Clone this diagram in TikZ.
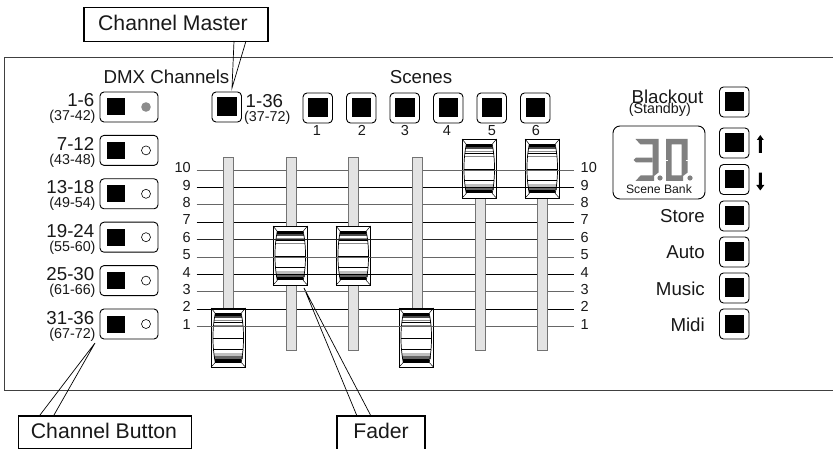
\documentclass[tikz,border=0pt]{standalone}
\usepackage{fontspec}
\setmainfont{Liberation Sans}
\tikzset{
 btn/.style={draw=black,line width=0.9pt,fill=white,rounded corners=4pt},
 sq/.style={fill=black,draw=none},
 lbl/.style={inner sep=0pt,font=\fontsize{18.7}{19}\selectfont,text=black!90},
 sub/.style={inner sep=0pt,font=\fontsize{14.3}{15}\selectfont,text=black!90},
 num/.style={inner sep=0pt,font=\fontsize{14.5}{15}\selectfont,text=black!90},
 calltxt/.style={inner sep=0pt,font=\fontsize{21.2}{22}\selectfont,text=black!90},
 call/.style={draw=black,line width=1.5pt,fill=white},
 ptr/.style={draw=black,line width=0.7pt},
 gridl/.style={line width=0.8pt},
 seg/.style={fill=black!50,draw=none},
}
\definecolor{trackc}{gray}{0.89}
\newcommand{\chbtn}[1]{%
 \draw[btn] (100,#1) rectangle (158,#1+30);
 \fill[sq] (107,#1+6.5) rectangle (125,#1+23.5);
}
\newcommand{\sqbtn}[2]{%
 \draw[btn] (#1,#2) rectangle (#1+29.5,#2+30);
 \fill[sq] (#1+5.2,#2+5.5) rectangle (#1+24.5,#2+24);
}
\newcommand{\fadercap}[2]{%
 \begin{scope}[shift={(#1,#2)}]
 \draw[line width=0.9pt,fill=white] (0,0) rectangle (34.5,59);
 \fill[black] (4.3,5.3) rectangle (30.2,8.3);
 \fill[black!70] (3.6,8.3) rectangle (30.9,10);
 \fill[black!45] (3,12) rectangle (31.5,13.3);
 \fill[black] (2.8,14.2) rectangle (31.7,14.9);
 \fill[black!45] (2.4,16.7) rectangle (32.1,18);
 \fill[black!25] (2.6,45) rectangle (31.9,48);
 \fill[black!60] (3,48) rectangle (31.5,51);
 \fill[black] (4.3,51) rectangle (30.2,54.5);
 \draw[line width=0.7pt] (4.3,5.3) .. controls (1.2,20) and (1.2,39) .. (4.3,54.5);
 \draw[line width=0.7pt] (30.2,5.3) .. controls (33.3,20) and (33.3,39) .. (30.2,54.5);
 \draw[line width=0.5pt] (0,0) -- (4.3,5.3) (34.5,0) -- (30.2,5.3) (0,59) -- (4.3,54.5) (34.5,59) -- (30.2,54.5);
 \draw[line width=0.6pt] (2,30) -- (32.5,30) (2.3,41) -- (32.2,41);
 \end{scope}
}
\newcommand{\gridlines}{%
 \foreach \yy/\cc in {170/black!60,187.4/black,204.8/black!60,222.2/black,239.6/black!85,257/black!60,274.4/black,291.8/black!60,309.2/black,326.6/black!60}
  \draw[gridl,draw=\cc] (196.5,\yy) -- (574,\yy);
}
\begin{document}
\begin{tikzpicture}[x=1pt,y=-1pt]
\useasboundingbox (0,0) rectangle (833,449);
\fill[white] (0,0) rectangle (833,449);
% panel
\draw[line width=0.9pt,draw=black!75] (833,57.5) -- (4.5,57.5) -- (4.5,390.7) -- (833,390.7);
% callouts
\node[call,minimum width=184pt,minimum height=34pt,inner sep=0pt,anchor=north west] (cm) at (83,7) {};
\node[calltxt,anchor=base] (cmt) at (173,30.7) {Channel Master};
\coordinate (cma) at (234,41);\coordinate (cmb) at (246,41);\coordinate (cmc) at (232,88);
\draw[ptr] (cma) -- (cmc) -- (cmb);
\node[call,minimum width=173pt,minimum height=32.5pt,inner sep=0pt,anchor=north west] (cb) at (17.5,415) {};
\node[calltxt,anchor=base] (cbt) at (104,438) {Channel Button};
\coordinate (cba) at (40,415);\coordinate (cbb) at (54,415);\coordinate (cbc) at (95,343);
\draw[ptr] (cba) -- (cbc) -- (cbb);
\coordinate (faa) at (357,416);\coordinate (fab) at (371,416);\coordinate (fac) at (304,288);
\draw[ptr] (faa) -- (fac) -- (fab);
\draw[call] (337,449.5) -- (337,416) -- (425,416) -- (425,449.5);
\node[calltxt,anchor=base] (fat) at (381,438) {Fader};
% headers
\node[lbl,anchor=base] (dmx) at (166.5,83.5) {DMX Channels};
\node[lbl,anchor=base] (scn) at (421,84) {Scenes};
% channel buttons
\foreach \yy/\aa/\bb [count=\i] in {92/1-6/(37-42),135.4/7-12/(43-48),178.8/13-18/(49-54),222.2/19-24/(55-60),265.6/25-30/(61-66),309/31-36/(67-72)}{
 \chbtn{\yy}
 \node[lbl,anchor=base east] (ca\i) at (94.5,\yy+15) {\aa};
 \node[sub,anchor=base east] (cb\i) at (95.7,\yy+29) {\bb};
 \ifnum\i=1
  \fill[black!45] (146,\yy+15) circle (4.8);
 \else
  \draw[line width=0.6pt,fill=white] (146,\yy+15) circle (4.5);
 \fi
}
% master
\sqbtn{212}{92}
\node[lbl,anchor=base west] (mst) at (245.5,107.7) {1-36};
\node[sub,anchor=base west] (msb) at (244,121.5) {(37-72)};
% scenes
\foreach \xx/\lx/\n in {303/317/1,346.5/362/2,390/405/3,433.5/447/4,477/492/5,520.5/536/6}{
 \sqbtn{\xx}{93}
 \node[num,anchor=base] (sl\n) at (\lx,136) {\n};
}
% grid
\gridlines
\foreach \yy/\n in {170/10,187.4/9,204.8/8,222.2/7,239.6/6,257/5,274.4/4,291.8/3,309.2/2,326.6/1}{
 \node[num,anchor=mid east] (gl\n) at (191,\yy) {\n};
 \node[num,anchor=mid west] (gr\n) at (580.5,\yy) {\n};
}
% tracks
\foreach \xx in {228,291,353.5,417,480,542}
 \draw[draw=black!55,line width=0.9pt,fill=trackc] (\xx-5,157) rectangle (\xx+5,350);
% caps
\fadercap{211}{308}
\fadercap{273}{226}
\fadercap{336}{226}
\fadercap{399}{308}
\fadercap{462}{139}
\fadercap{525}{139}
\begin{scope}
\clip (211,308) rectangle (245.5,367) (273,226) rectangle (307.5,285) (336,226) rectangle (370.5,285) (399,308) rectangle (433.5,367) (462,139) rectangle (496.5,198) (525,139) rectangle (559.5,198);
\gridlines
\end{scope}
% right column
\sqbtn{719.5}{87}
\node[lbl,anchor=base east] (blk) at (703.5,104) {Blackout};
\node[sub,anchor=base east] (stb) at (691,114) {(Standby)};
\sqbtn{719.5}{128}
\sqbtn{719.5}{164.5}
\foreach \yy/\t in {201/Store,237/Auto,273/Music,309/Midi}{
 \sqbtn{719.5}{\yy}
 \node[lbl,anchor=base east] (r\t) at (705,\yy+22) {\t};
}
% arrows
\fill[black] (760.3,135) -- (763.8,140) -- (761.8,140) -- (761.8,153) -- (758.8,153) -- (758.8,140) -- (756.8,140) -- cycle;
\fill[black] (760.3,190.5) -- (764.3,185) -- (761.8,185) -- (761.8,172.7) -- (758.8,172.7) -- (758.8,185) -- (756.3,185) -- cycle;
% display
\draw[line width=0.9pt,rounded corners=7pt] (613,126) rectangle (705,199);
\fill[seg] (635.5,139) -- (658.5,139) -- (658.5,172.5) -- (654,176) -- (654,181) -- (635.5,181) -- (640.5,175.5) -- (652.5,175.5) -- (652.5,144.5) -- (640.5,144.5) -- cycle;
\fill[seg] (633.5,160) -- (636,157.7) -- (652.5,157.7) -- (652.5,162.3) -- (636,162.3) -- cycle;
\fill[seg,even odd rule] (666,139) -- (687.7,139) -- (687.7,172.5) -- (683,176) -- (683,181) -- (666,181) -- cycle (671.7,144.5) rectangle (681.7,175.5);
\draw[white,line width=0.7pt] (665.5,160) -- (668,160) (685.5,160) -- (688,160);
\fill[seg] (660,178) circle (2.6) (690,178) circle (2.6);
\node[inner sep=0pt,font=\fontsize{12.2}{13}\selectfont,text=black!90] (sb) at (659,189) {Scene Bank};
\end{tikzpicture}
\end{document}
